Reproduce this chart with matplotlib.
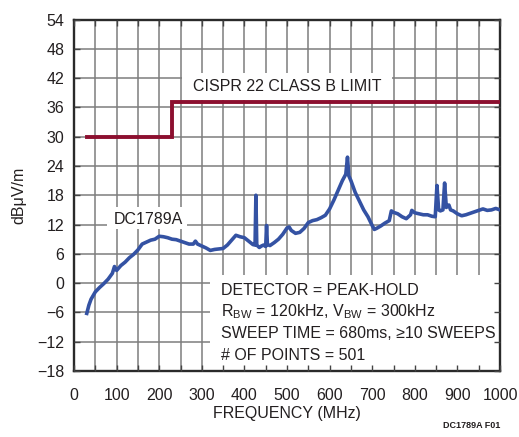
import matplotlib
matplotlib.use("Agg")
import matplotlib.pyplot as plt
from matplotlib import font_manager
from matplotlib.patches import Rectangle

# ---------------- data ----------------
freq_mhz = [30, 35, 40, 50, 60, 70, 80, 90, 95, 100, 110, 120, 130, 140, 150, 160, 170, 180,
            190, 200, 210, 220, 230, 240, 250, 260, 270, 280, 285, 290, 300, 310, 320, 330,
            340, 350, 360, 370, 380, 390, 400, 410, 420, 425, 427, 429, 435, 440, 445, 450,
            452, 454, 460, 470, 480, 490, 500, 505, 510, 520, 530, 540, 550, 560, 570, 580,
            590, 600, 610, 620, 630, 638, 642, 645, 650, 660, 670, 680, 690, 700, 705, 710,
            720, 730, 740, 745, 750, 760, 770, 780, 790, 793, 800, 810, 820, 830, 840, 848,
            852, 856, 860, 866, 870, 874, 880, 884, 890, 900, 910, 920, 930, 940, 950, 960,
            970, 980, 990, 1000]
level_dbuv = [-6.2, -4.5, -3.3, -1.8, -0.9, -0.1, 0.8, 2.0, 3.4, 2.6, 3.6, 4.3, 5.2, 5.9, 6.8,
              8.0, 8.4, 8.8, 9.0, 9.6, 9.5, 9.3, 9.0, 8.9, 8.6, 8.3, 8.0, 8.0, 8.6, 8.0, 7.6,
              7.2, 6.7, 6.9, 7.0, 7.1, 7.8, 8.8, 9.8, 9.5, 9.3, 8.6, 7.9, 7.8, 18.0, 7.8, 7.3,
              7.6, 7.8, 7.5, 11.8, 7.9, 7.7, 8.3, 9.0, 10.0, 11.3, 11.5, 10.8, 10.2, 10.4,
              11.2, 12.4, 12.8, 13.0, 13.4, 13.9, 15.2, 17.0, 19.0, 21.0, 22.3, 25.8, 22.0,
              21.0, 18.6, 16.8, 15.0, 13.6, 11.8, 11.0, 11.2, 11.7, 12.3, 12.8, 14.8, 14.5,
              14.2, 13.6, 13.2, 14.0, 14.9, 14.4, 14.2, 14.0, 14.0, 13.7, 13.6, 20.0, 15.0,
              14.8, 15.0, 20.5, 15.5, 16.0, 15.0, 14.8, 14.2, 13.8, 14.0, 14.3, 14.6, 14.9,
              15.2, 14.9, 15.0, 15.3, 15.0]

limit_freq = [30, 230, 230, 1000]
limit_level = [30, 30, 37, 37]

x_ticks = [0, 100, 200, 300, 400, 500, 600, 700, 800, 900, 1000]
y_ticks = [-18, -12, -6, 0, 6, 12, 18, 24, 30, 36, 42, 48, 54]

notes = ["DETECTOR = PEAK-HOLD",
         r"R$_{\mathregular{BW}}$ = 120kHz, V$_{\mathregular{BW}}$ = 300kHz",
         "SWEEP TIME = 680ms, \u226510 SWEEPS",
         "# OF POINTS = 501"]

# ---------------- style ----------------
names = {f.name for f in font_manager.fontManager.ttflist}
if "Liberation Sans Narrow" in names:
    fam, fs = "Liberation Sans Narrow", 12
else:
    fam, fs = "Liberation Sans", 11.5
plt.rcParams["font.family"] = [fam, "DejaVu Sans"]
plt.rcParams["mathtext.fontset"] = "custom"
plt.rcParams["mathtext.rm"] = fam

BLUE = "#3452A3"
RED = "#8C0F2F"
GRID = "#7d7d7d"
TXT = "#231f20"

fig = plt.figure(figsize=(5.19, 4.37), dpi=100)
ax = fig.add_axes([74 / 519, 1 - 371 / 437, 426 / 519, 351.5 / 437])
ax.set_xlim(0, 1000)
ax.set_ylim(-18, 54)

# manual grid
for xv in range(50, 1000, 50):
    ax.axvline(xv, color=GRID, lw=1.1, zorder=1)
for yv in y_ticks[1:-1]:
    ax.axhline(yv, color=GRID, lw=1.1, zorder=1)

# white label boxes
ax.add_patch(Rectangle((254, 37.5), 492, 5.6, facecolor="white", edgecolor="none", zorder=2))
ax.add_patch(Rectangle((77, 11.0), 188, 4.6, facecolor="white", edgecolor="none", zorder=2))
ax.add_patch(Rectangle((319, -18), 681, 19.6, facecolor="white", edgecolor="none", zorder=2))

ax.set_axisbelow(False)
ax.set_xticks(x_ticks)
ax.set_xticks(range(50, 1000, 100), minor=True)
ax.set_yticks(y_ticks)
ax.tick_params(which="both", direction="in", top=True, right=True, length=4,
               color="#444444", width=1.0, labelsize=fs, labelcolor=TXT)
ax.tick_params(axis="x", pad=12)
ax.tick_params(axis="y", pad=7)
for s in ax.spines.values():
    s.set_linewidth(1.7)
    s.set_color("#2a2a2a")

ax.plot(limit_freq, limit_level, color=RED, lw=2.8, zorder=3, solid_joinstyle="miter")
ax.plot(freq_mhz, level_dbuv, color=BLUE, lw=2.6, zorder=3)

ax.text(279, 40.2, "CISPR 22 CLASS B LIMIT", fontsize=fs, color=TXT, va="center", ha="left", zorder=4)
ax.text(94, 13.0, "DC1789A", fontsize=fs, color=TXT, va="center", ha="left", zorder=4)
for v, line in zip([-1.43, -5.9, -10.3, -14.75], notes):
    ax.text(345, v, line, fontsize=fs, color=TXT, va="center", ha="left", zorder=4)

ax.set_xlabel("FREQUENCY (MHz)", fontsize=fs, color=TXT)
ax.set_ylabel("dB\u03bcV/m", fontsize=fs, color=TXT)
ax.xaxis.set_label_coords(0.5, -0.1)
ax.yaxis.set_label_coords(-0.112, 0.5)

fig.text(500 / 519, 1 - 425 / 437, "DC1789A F01", fontsize=6.5, color=TXT, ha="right",
         va="center", fontweight="bold")

fig.savefig("out.png", dpi=100)
